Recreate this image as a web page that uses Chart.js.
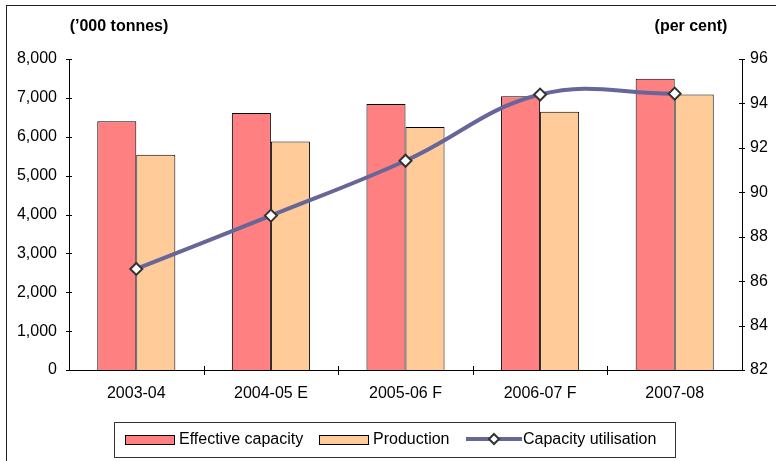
<!DOCTYPE html>
<html>
<head>
<meta charset="utf-8">
<script src="https://cdn.jsdelivr.net/npm/chart.js@4/dist/chart.umd.min.js"></script>
<style>
  html, body { margin: 0; padding: 0; background: #fff; }
  #wrap { width: 776px; height: 461px; position: relative; }
</style>
</head>
<body>
<div id="wrap"><canvas id="c" width="776" height="461"></canvas></div>
<script>
// Years on the category axis
const years = ['2003-04', '2004-05 E', '2005-06 F', '2006-07 F', '2007-08'];
// Capacity and output, thousand tonnes
const effectiveCapacity = [6400, 6610, 6840, 7040, 7490];
const production = [5540, 5880, 6250, 6640, 7090];
// Utilisation rate, per cent
const capacityUtilisation = [86.55, 88.95, 91.42, 94.4, 94.44];

const FONT = '"Liberation Sans", Arial, Helvetica, sans-serif';

// Outer frame, unit captions, crossing tick marks and the boxed legend
const decorations = {
  id: 'decorations',
  afterDraw(chart) {
    const ctx = chart.ctx;
    const area = chart.chartArea;
    const yl = chart.scales.y, yr = chart.scales.y1;
    ctx.save();

    // frame
    ctx.strokeStyle = '#222';
    ctx.lineWidth = 1;
    ctx.strokeRect(6.5, 5.5, 800, 500);

    // captions
    ctx.fillStyle = '#000';
    ctx.font = 'bold 16px ' + FONT;
    ctx.textBaseline = 'middle';
    ctx.textAlign = 'center';
    ctx.fillText('(\u2019000 tonnes)', 119, 27);
    ctx.fillText('(per cent)', 691, 27);

    // ticks crossing the axes
    ctx.strokeStyle = '#000';
    ctx.lineWidth = 1;
    ctx.beginPath();
    yl.ticks.forEach(t => {
      const y = Math.round(yl.getPixelForValue(t.value)) + 0.5;
      ctx.moveTo(area.left - 3, y); ctx.lineTo(area.left + 3, y);
    });
    yr.ticks.forEach(t => {
      const y = Math.round(yr.getPixelForValue(t.value)) + 0.5;
      ctx.moveTo(area.right - 3, y); ctx.lineTo(area.right + 3, y);
    });
    const n = years.length;
    const step = (area.right - area.left) / n;
    for (let i = 1; i < n; i++) {
      const x = Math.round(area.left + step * i) + 0.5;
      ctx.moveTo(x, area.bottom - 4); ctx.lineTo(x, area.bottom + 5);
    }
    ctx.stroke();

    // legend box
    const byLabel = l => chart.data.datasets.find(d => d.label === l);
    ctx.strokeStyle = '#333';
    ctx.strokeRect(114.5, 422.5, 561, 35);
    ctx.font = '16px ' + FONT;
    ctx.textAlign = 'left';
    ctx.textBaseline = 'middle';
    const cy = 439;
    // bar swatches
    const swatches = [[125, 179, byLabel('Effective capacity')], [319, 373, byLabel('Production')]];
    swatches.forEach(([sx, tx, d]) => {
      ctx.fillStyle = d.backgroundColor;
      ctx.fillRect(sx, cy - 4, 49, 9);
      ctx.strokeStyle = '#000';
      ctx.lineWidth = 1;
      ctx.strokeRect(sx + 0.5, cy - 3.5, 49, 9);
      ctx.fillStyle = '#000';
      ctx.fillText(d.label, tx, cy + 1);
    });
    // line swatch
    const ld = byLabel('Capacity utilisation');
    ctx.strokeStyle = ld.borderColor;
    ctx.lineWidth = 4;
    ctx.beginPath();
    ctx.moveTo(466, cy); ctx.lineTo(522, cy);
    ctx.stroke();
    ctx.lineWidth = 2;
    ctx.fillStyle = '#fff';
    ctx.strokeStyle = '#333';
    ctx.beginPath();
    ctx.moveTo(494, cy - 5); ctx.lineTo(499, cy); ctx.lineTo(494, cy + 5); ctx.lineTo(489, cy);
    ctx.closePath();
    ctx.fill(); ctx.stroke();
    ctx.fillStyle = '#000';
    ctx.fillText(ld.label, 523, cy + 1);

    ctx.restore();
  }
};

new Chart(document.getElementById('c'), {
  type: 'bar',
  data: {
    labels: years,
    datasets: [
      {
        label: 'Effective capacity',
        data: effectiveCapacity,
        backgroundColor: '#FF8080',
        borderColor: '#000',
        borderWidth: 1,
        yAxisID: 'y',
        categoryPercentage: 0.58,
        barPercentage: 1.0,
        order: 1
      },
      {
        label: 'Production',
        data: production,
        backgroundColor: '#FFCC99',
        borderColor: '#000',
        borderWidth: 1,
        yAxisID: 'y',
        categoryPercentage: 0.58,
        barPercentage: 1.0,
        order: 1
      },
      {
        type: 'line',
        label: 'Capacity utilisation',
        data: capacityUtilisation,
        yAxisID: 'y1',
        borderColor: '#666699',
        borderWidth: 4,
        tension: 0.4,
        pointStyle: 'rectRot',
        pointRadius: 6,
        pointBorderWidth: 2,
        pointBackgroundColor: '#fff',
        pointBorderColor: '#333',
        order: 0
      }
    ]
  },
  options: {
    responsive: false,
    animation: false,
    layout: { padding: { top: 59, left: 0, right: 0, bottom: 0 } },
    plugins: {
      legend: { display: false },
      tooltip: { enabled: false }
    },
    scales: {
      x: {
        offset: true,
        grid: { display: false, drawTicks: false },
        border: { display: true, color: '#000', width: 1 },
        ticks: { color: '#000', font: { family: FONT, size: 16 }, padding: 14, maxRotation: 0 },
        afterFit(s) { s.height = 91; }
      },
      y: {
        position: 'left',
        min: 0, max: 8000,
        grid: { display: false, drawTicks: false },
        border: { display: true, color: '#000', width: 1 },
        ticks: {
          stepSize: 1000, color: '#000', padding: 12,
          font: { family: FONT, size: 16 },
          callback: v => v.toLocaleString('en-US')
        },
        afterFit(s) { s.width = 69; }
      },
      y1: {
        position: 'right',
        min: 82, max: 96,
        grid: { display: false, drawTicks: false },
        border: { display: true, color: '#000', width: 1 },
        ticks: { stepSize: 2, color: '#000', padding: 8, font: { family: FONT, size: 16 } },
        afterFit(s) { s.width = 34; }
      }
    }
  },
  plugins: [decorations]
});
</script>
</body>
</html>
